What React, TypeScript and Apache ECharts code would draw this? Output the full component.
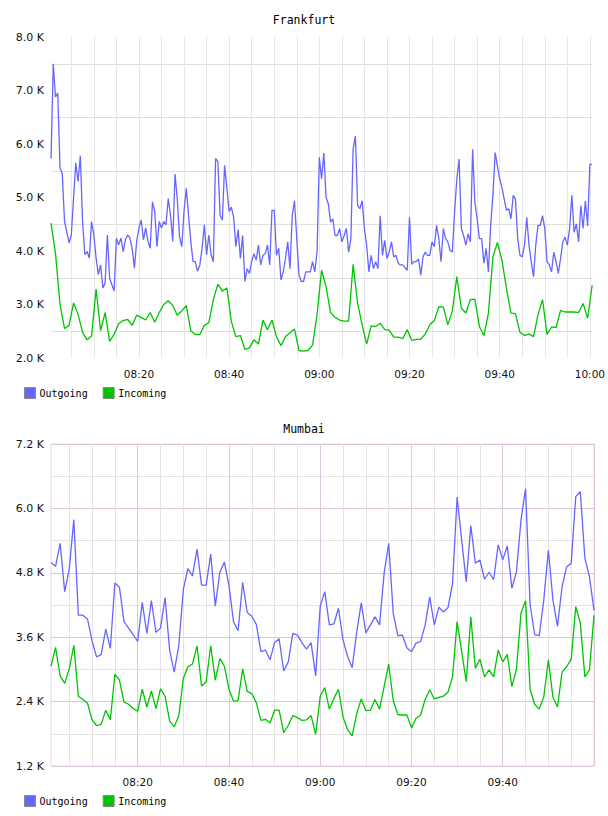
import React, { useEffect, useRef } from 'react';
import * as echarts from 'echarts';

const pad = (n: number) => (n < 10 ? '0' : '') + n;
function makeTimes(startSec: number, count: number, stepSec: number): string[] {
  const out: string[] = [];
  for (let k = 0; k < count; k++) {
    const t = startSec + k * stepSec;
    out.push(`${pad(Math.floor(t / 3600))}:${pad(Math.floor((t % 3600) / 60))}:${pad(t % 60)}`);
  }
  return out;
}

// Frankfurt: 30-second categories 08:00:30 .. 10:00:30
const frankfurtTimes = makeTimes(8 * 3600 + 30, 241, 30);
// Mumbai: 1-minute categories 08:01 .. 10:00
const mumbaiTimes = makeTimes(8 * 3600 + 60, 120, 60);

// values in K
const frankfurtOutgoing = [
  5.73, 7.5, 6.88, 6.95, 5.55, 5.45, 4.55, 4.36, 4.15, 4.3,
  4.98, 5.65, 5.3, 5.78, 4.55, 3.93, 3.99, 3.87, 4.55, 4.3,
  3.87, 3.56, 3.74, 3.31, 3.4, 4.3, 3.49, 3.37, 3.25, 4.24,
  4.11, 4.24, 3.99, 4.21, 4.3, 4.24, 4.05, 3.68, 4.18, 4.43,
  4.58, 4.21, 4.43, 4.18, 4.05, 4.92, 4.74, 4.08, 4.55, 4.43,
  4.55, 4.49, 4.98, 4.67, 4.18, 5.44, 4.98, 4.27, 4.08, 4.74,
  5.17, 4.67, 4.18, 3.8, 3.8, 3.62, 3.74, 4.05, 4.49, 3.93,
  4.3, 3.93, 3.8, 5.73, 5.67, 4.67, 4.58, 5.6, 5.17, 4.74,
  4.82, 4.63, 4.08, 4.4, 3.86, 4.29, 3.43, 3.67, 3.58, 3.8,
  3.95, 3.83, 4.11, 3.74, 3.92, 3.95, 4.11, 3.74, 4.76, 4.76,
  3.92, 4.05, 3.46, 3.61, 3.86, 4.17, 3.67, 4.66, 4.94, 4.23,
  3.55, 3.43, 3.43, 3.61, 3.61, 3.61, 3.8, 3.61, 3.98, 5.75,
  5.35, 5.83, 5.0, 4.88, 4.54, 4.6, 4.29, 4.29, 4.42, 4.17,
  4.29, 4.42, 3.98, 4.23, 5.9, 6.15, 4.85, 4.79, 4.94, 4.42,
  4.11, 3.61, 3.92, 3.67, 3.8, 3.67, 4.66, 3.92, 4.2, 3.86,
  3.98, 4.17, 3.89, 3.92, 3.77, 3.74, 3.74, 3.69, 3.64, 4.63,
  3.75, 3.8, 3.8, 3.85, 3.55, 3.89, 3.98, 3.92, 3.92, 4.17,
  4.08, 4.48, 4.23, 3.8, 4.42, 4.23, 4.17, 4.01, 3.98, 4.73,
  5.35, 5.72, 4.42, 4.29, 4.11, 4.32, 4.17, 5.9, 4.91, 4.6,
  4.23, 4.23, 3.77, 4.05, 3.61, 4.48, 5.04, 5.84, 5.59, 5.35,
  5.19, 4.97, 4.76, 4.79, 4.6, 5.04, 4.97, 4.23, 3.92, 3.89,
  4.11, 4.63, 4.11, 3.8, 3.52, 4.11, 4.48, 4.48, 4.66, 4.42,
  3.8, 3.74, 3.61, 3.98, 3.8, 3.58, 3.86, 4.17, 4.26, 4.11,
  4.42, 5.04, 4.35, 4.51, 4.17, 4.85, 4.42, 4.94, 4.47, 5.62,
  5.62,
];

// one value per minute, starting 08:00:30
const frankfurtIncoming = [
  4.52, 3.95, 3.0, 2.55, 2.61, 3.03, 2.82, 2.48, 2.34, 2.41,
  3.29, 2.51, 2.85, 2.31, 2.44, 2.64, 2.7, 2.72, 2.61, 2.8,
  2.76, 2.71, 2.85, 2.67, 2.85, 3.0, 3.07, 2.98, 2.8, 2.88,
  2.98, 2.51, 2.44, 2.44, 2.61, 2.66, 3.09, 3.38, 3.25, 3.31,
  2.68, 2.4, 2.42, 2.16, 2.19, 2.34, 2.26, 2.71, 2.53, 2.71,
  2.4, 2.23, 2.4, 2.47, 2.54, 2.14, 2.13, 2.14, 2.24, 2.81,
  3.64, 3.33, 2.85, 2.76, 2.71, 2.69, 2.69, 3.75, 3.02, 2.62,
  2.26, 2.6, 2.59, 2.65, 2.53, 2.52, 2.39, 2.39, 2.36, 2.53,
  2.33, 2.35, 2.35, 2.45, 2.62, 2.7, 2.96, 2.95, 2.62, 2.88,
  3.52, 2.93, 2.84, 3.09, 3.1, 2.59, 2.42, 2.84, 3.89, 4.16,
  3.83, 3.3, 2.84, 2.83, 2.48, 2.42, 2.45, 2.4, 2.81, 3.09,
  2.44, 2.58, 2.57, 2.89, 2.86, 2.86, 2.86, 2.85, 3.02, 2.74,
  3.36,
];

const mumbaiOutgoing = [
  4.99, 4.92, 5.35, 4.45, 4.87, 5.79, 4.01, 4.01, 3.94, 3.53,
  3.23, 3.28, 3.75, 3.39, 4.61, 4.53, 3.89, 3.77, 3.65, 3.52,
  4.25, 3.67, 4.28, 3.69, 3.77, 4.34, 3.36, 2.95, 3.44, 4.49,
  4.88, 4.74, 5.24, 4.57, 4.57, 5.15, 4.18, 4.81, 5.0, 4.56,
  3.89, 3.72, 4.62, 4.06, 3.99, 3.84, 3.33, 3.36, 3.18, 3.5,
  3.57, 2.97, 3.14, 3.67, 3.64, 3.5, 3.38, 3.5, 2.88, 4.18,
  4.45, 3.83, 3.85, 4.14, 3.55, 3.24, 3.03, 3.7, 4.24, 3.68,
  3.83, 3.98, 3.83, 4.79, 5.35, 4.05, 3.63, 3.64, 3.4, 3.33,
  3.49, 3.52, 3.83, 4.35, 3.83, 4.16, 4.07, 4.15, 4.6, 6.21,
  5.41, 4.63, 5.68, 4.98, 5.04, 4.68, 4.81, 4.67, 5.32, 5.04,
  5.3, 4.51, 4.82, 5.78, 6.37, 4.2, 3.65, 3.63, 4.3, 5.22,
  4.29, 3.8, 4.54, 4.91, 4.98, 6.22, 6.31, 5.07, 4.73, 4.1,
];

const mumbaiIncoming = [
  3.06, 3.41, 2.88, 2.74, 3.01, 3.45, 2.5, 2.44, 2.37, 2.06,
  1.95, 1.98, 2.24, 2.06, 2.91, 2.8, 2.39, 2.35, 2.27, 2.22,
  2.63, 2.3, 2.6, 2.27, 2.64, 2.5, 2.04, 1.93, 2.13, 2.83,
  3.05, 3.1, 3.44, 2.69, 2.77, 3.44, 2.8, 3.2, 3.06, 2.63,
  2.41, 2.42, 3.01, 2.59, 2.55, 2.38, 2.05, 2.07, 2.0, 2.24,
  2.24, 1.82, 1.96, 2.14, 2.1, 2.05, 2.06, 2.14, 1.79, 2.5,
  2.66, 2.26, 2.46, 2.63, 2.11, 1.88, 1.76, 2.18, 2.45, 2.23,
  2.24, 2.44, 2.26, 2.68, 3.1, 2.42, 2.16, 2.15, 2.15, 1.91,
  2.09, 2.15, 2.44, 2.62, 2.45, 2.48, 2.5, 2.58, 2.86, 3.89,
  3.33, 2.77, 3.98, 3.02, 3.19, 2.86, 2.99, 2.86, 3.36, 3.14,
  3.28, 2.68, 3.0, 4.05, 4.28, 2.62, 2.35, 2.26, 2.49, 3.18,
  2.48, 2.3, 2.95, 3.05, 3.19, 4.17, 3.86, 2.86, 2.99, 4.01,
];

const seriesNames = ['Outgoing', 'Incoming'];
const titles = ['Frankfurt', 'Mumbai'];

const BLUE = '#6666ff';
const GREEN = '#00c400';
const LABEL_FONT = 'DejaVu Sans';
const MONO_FONT = 'DejaVu Sans Mono';

const minuteOf = (v: string) => parseInt(v.slice(3, 5), 10);
const secOf = (v: string) => v.slice(6, 8);

export default function App() {
  const ref = useRef<HTMLDivElement>(null);
  useEffect(() => {
    if (!ref.current) return;
    const chart = echarts.init(ref.current, undefined, { renderer: 'svg' });
    const axisLabelBase = { color: '#111', fontFamily: LABEL_FONT, fontSize: 10.5 };
    const titleStyle = { fontFamily: MONO_FONT, fontSize: 11.5, fontWeight: 'normal' as const, color: '#000' };
    const legendBase = {
      left: 24,
      padding: 0,
      itemWidth: 11,
      itemHeight: 11,
      itemGap: 15,
      icon: 'rect',
      data: seriesNames,
      selectedMode: false,
      textStyle: { fontFamily: MONO_FONT, fontSize: 10, color: '#000', padding: [0, 0, 0, -1] },
      itemStyle: { borderColor: '#8a8a8a', borderWidth: 1 },
    };
    const lineBase = { type: 'line' as const, symbol: 'none', showSymbol: false };
    chart.setOption({
      animation: false,
      textStyle: { fontFamily: LABEL_FONT },
      title: [
        { text: titles[0], left: 'center', top: 14, padding: 0, textStyle: titleStyle },
        { text: titles[1], left: 'center', top: 423, padding: 0, textStyle: titleStyle },
      ],
      legend: [
        { ...legendBase, top: 387 },
        { ...legendBase, top: 795 },
      ],
      grid: [
        { left: 51, top: 37, width: 543, height: 321, show: false },
        { left: 51, top: 444, width: 543, height: 322, show: true, borderColor: '#e8d6e8', borderWidth: 1, backgroundColor: 'transparent' },
      ],
      xAxis: [
        {
          type: 'category', gridIndex: 0, data: frankfurtTimes, boundaryGap: false,
          axisLine: { show: false }, axisTick: { show: false },
          axisLabel: {
            ...axisLabelBase, margin: 10,
            interval: (_i: number, v: string) => secOf(v) === '00' && minuteOf(v) % 20 === 0,
            formatter: (v: string) => v.slice(0, 5),
          },
          splitLine: {
            show: true,
            interval: (_i: number, v: string) => secOf(v) === '00' && minuteOf(v) % 5 === 0,
            lineStyle: { color: '#e6e6e6', width: 1 },
          },
        },
        {
          type: 'category', gridIndex: 1, data: mumbaiTimes, boundaryGap: false,
          axisLine: { show: false }, axisTick: { show: false },
          axisLabel: {
            ...axisLabelBase, margin: 10,
            interval: (_i: number, v: string) => minuteOf(v) % 20 === 0 && !v.startsWith('10:00'),
            formatter: (v: string) => v.slice(0, 5),
          },
          splitLine: {
            show: true,
            interval: (_i: number, v: string) => minuteOf(v) % 5 === 0 && minuteOf(v) % 20 !== 0,
            lineStyle: { color: '#e6e2e6', width: 1 },
          },
        },
        {
          type: 'category', gridIndex: 1, data: mumbaiTimes, boundaryGap: false, position: 'top',
          axisLine: { show: false }, axisTick: { show: false }, axisLabel: { show: false },
          splitLine: {
            show: true,
            interval: (_i: number, v: string) => minuteOf(v) % 20 === 0,
            lineStyle: { color: '#dcc6dc', width: 1 },
          },
        },
      ],
      yAxis: [
        {
          type: 'value', gridIndex: 0, min: 2, max: 8, interval: 1,
          axisLine: { show: false }, axisTick: { show: false },
          axisLabel: { ...axisLabelBase, fontSize: 11, margin: 7, formatter: (v: number) => v.toFixed(1) + ' K' },
          splitLine: { show: false },
          minorTick: { show: false, splitNumber: 2 },
          minorSplitLine: { show: true, lineStyle: { color: '#dedede', width: 1 } },
        },
        {
          type: 'value', gridIndex: 1, min: 1.2, max: 7.2, interval: 1.2,
          axisLine: { show: false }, axisTick: { show: false },
          axisLabel: { ...axisLabelBase, fontSize: 11, margin: 7, formatter: (v: number) => v.toFixed(1) + ' K' },
          splitLine: { show: true, lineStyle: { color: '#dcc6dc', width: 1 } },
          minorTick: { show: false, splitNumber: 2 },
          minorSplitLine: { show: true, lineStyle: { color: '#e6e2e6', width: 1 } },
        },
      ],
      series: [
        {
          ...lineBase, name: seriesNames[0], xAxisIndex: 0, yAxisIndex: 0,
          data: frankfurtOutgoing,
          lineStyle: { color: BLUE, width: 1.3 }, itemStyle: { color: BLUE },
        },
        {
          ...lineBase, name: seriesNames[1], xAxisIndex: 0, yAxisIndex: 0,
          data: frankfurtIncoming.map((v, i) => [i * 2, v]),
          lineStyle: { color: GREEN, width: 1.3 }, itemStyle: { color: GREEN },
        },
        {
          ...lineBase, name: seriesNames[0], xAxisIndex: 1, yAxisIndex: 1,
          data: mumbaiOutgoing,
          lineStyle: { color: BLUE, width: 1.3 }, itemStyle: { color: BLUE },
        },
        {
          ...lineBase, name: seriesNames[1], xAxisIndex: 1, yAxisIndex: 1,
          data: mumbaiIncoming,
          lineStyle: { color: GREEN, width: 1.3 }, itemStyle: { color: GREEN },
        },
      ],
    });
    return () => chart.dispose();
  }, []);
  return <div ref={ref} style={{ position: 'absolute', left: 0, top: 0, width: 608, height: 816 }} />;
}
